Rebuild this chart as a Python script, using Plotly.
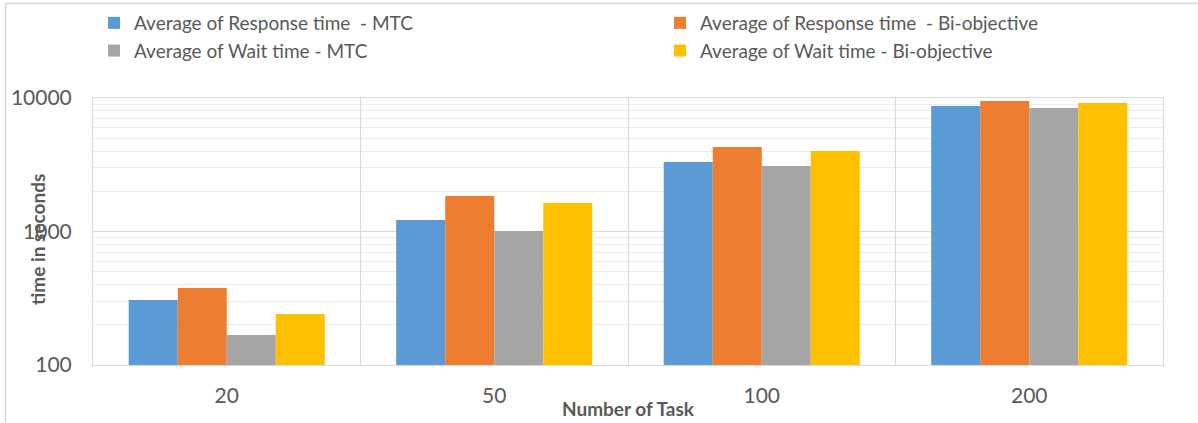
import plotly.graph_objects as go

categories = ["20", "50", "100", "200"]
resp_mtc = [307, 1219, 3316, 8709]
resp_bi = [377, 1845, 4299, 9500]
wait_mtc = [168, 1008, 3093, 8408]
wait_bi = [241, 1633, 4006, 9181]

names = [
    "Average of Response time  - MTC",
    "Average of Response time  - Bi-objective",
    "Average of Wait time - MTC",
    "Average of Wait time - Bi-objective",
]
series = [resp_mtc, resp_bi, wait_mtc, wait_bi]
colors = ["#5B9BD5", "#ED7D31", "#A5A5A5", "#FFC000"]
legends = ["legend", "legend2", "legend", "legend2"]

font_family = "Lato, 'Open Sans', sans-serif"

fig = go.Figure()
for n, s, c, lg in zip(names, series, colors, legends):
    fig.add_trace(go.Bar(x=categories, y=s, name=n, marker=dict(color=c, line=dict(width=0)),
                         legend=lg))

L, R, T, B = 93, 35, 98, 58
W, H = 1198, 423
pw = W - L - R
ph = H - T - B

def px_x(p):
    return (p - L) / pw

def px_y(p):
    return (H - B - p) / ph

fig.update_layout(
    width=W, height=H,
    margin=dict(l=L, r=R, t=T, b=B, autoexpand=False),
    paper_bgcolor="white", plot_bgcolor="white",
    font=dict(family=font_family, color="#595959"),
    barmode="group", bargap=0.267, bargroupgap=0,
    legend=dict(x=px_x(94), y=px_y(4), xanchor="left", yanchor="top",
                font=dict(size=19, color="#595959"), bgcolor="rgba(0,0,0,0)",
                tracegroupgap=0, orientation="v"),
    legend2=dict(x=px_x(660), y=px_y(4), xanchor="left", yanchor="top",
                 font=dict(size=19, color="#595959"), bgcolor="rgba(0,0,0,0)",
                 tracegroupgap=0, orientation="v"),
    xaxis=dict(type="category", tickson="boundaries", showgrid=True, gridcolor="#D9D9D9",
               gridwidth=1, showline=True, linecolor="#D9D9D9", mirror=True,
               ticks="", tickfont=dict(size=21, color="#595959"), ticklabelstandoff=12),
    yaxis=dict(type="log", range=[2, 4], tickvals=[100, 1000, 10000],
               ticktext=["100", "1000", "10000"], showgrid=True, gridcolor="#D9D9D9",
               showline=True, linecolor="#D9D9D9", mirror=True, ticks="",
               tickfont=dict(size=21, color="#595959"), ticklabelstandoff=16,
               minor=dict(tickvals=[200, 300, 400, 500, 600, 700, 800, 900,
                                    2000, 3000, 4000, 5000, 6000, 7000, 8000, 9000],
                          showgrid=True, gridcolor="#EDEDED", ticks="")),
    annotations=[
        dict(text="<b>time in seconds</b>", x=px_x(37), y=px_y(240), xref="paper", yref="paper",
             textangle=-90, showarrow=False, font=dict(size=19, color="#595959", family=font_family),
             xanchor="center", yanchor="middle"),
        dict(text="<b>Number of Task</b>", x=0.5, y=px_y(408), xref="paper", yref="paper",
             showarrow=False, font=dict(size=19, color="#595959", family=font_family),
             xanchor="center", yanchor="middle"),
    ],
    shapes=[
        dict(type="rect", xref="paper", yref="paper", x0=px_x(5.5), x1=px_x(1205),
             y0=px_y(430), y1=px_y(3.5), line=dict(color="#D9D9D9", width=1.5),
             fillcolor="rgba(0,0,0,0)", layer="below"),
    ],
)

fig.write_html("out.html", config={"displayModeBar": False},
               post_script="document.body.style.margin='0';document.body.style.overflow='hidden';")
